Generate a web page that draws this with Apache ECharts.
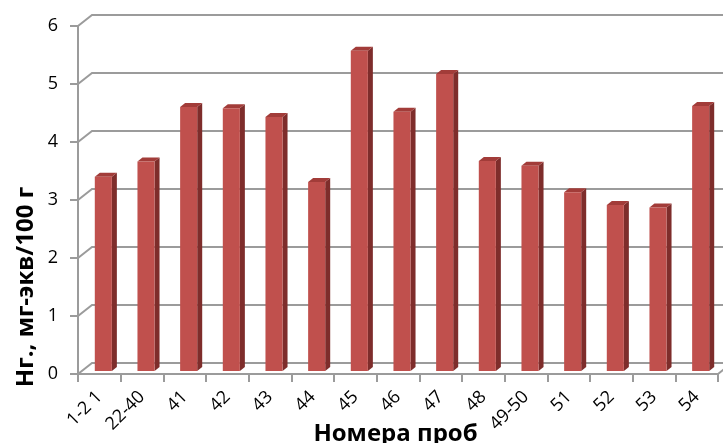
<!DOCTYPE html>
<html>
<head>
<meta charset="utf-8">
<script src="https://cdn.jsdelivr.net/npm/echarts@6/dist/echarts.min.js"></script>
<style>
  html, body { margin: 0; padding: 0; background: #ffffff; }
  #chart { width: 723px; height: 443px; }
</style>
</head>
<body>
<div id="chart"></div>
<script>
// Sample numbers and hardness values (mg-eq/100 g)
const categories = ['1-2 1', '22-40', '41', '42', '43', '44', '45', '46', '47', '48', '49-50', '51', '52', '53', '54'];
const values = [3.35, 3.61, 4.55, 4.53, 4.38, 3.26, 5.52, 4.47, 5.12, 3.62, 3.54, 3.08, 2.86, 2.82, 4.57];
const yTicks = [0, 1, 2, 3, 4, 5, 6];

const yTitle = 'Нг., мг-экв/100 г';
const xTitle = 'Номера проб';

// Depth of the pseudo-3D wall (pixels) and bar depth
const WALL_DX = 14, WALL_DY = -11;
const BAR_OFF_DX = 4, BAR_OFF_DY = -3;
const BAR_DX = 5, BAR_DY = -4;
const GRID_COLOR = '#9b9b9b';

const chart = echarts.init(document.getElementById('chart'), null, { renderer: 'canvas' });

const option = {
  backgroundColor: '#ffffff',
  animation: false,
  grid: { left: 78, right: 5, top: 26, bottom: 69, containLabel: false, outerBoundsMode: 'none' },
  xAxis: {
    type: 'category',
    data: categories,
    boundaryGap: true,
    axisLine: { show: true, lineStyle: { color: GRID_COLOR, width: 2 } },
    axisTick: { show: true, length: 8, lineStyle: { color: GRID_COLOR, width: 2 } },
    axisLabel: {
      rotate: 45,
      margin: 20,
      interval: 0,
      hideOverlap: false,
      color: '#000000',
      fontFamily: 'Open Sans',
      fontSize: 18
    },
    name: xTitle,
    nameLocation: 'middle',
    nameGap: 48,
    nameMoveOverlap: false,
    nameTextStyle: {
      color: '#000000',
      fontFamily: 'Open Sans',
      fontWeight: 'bold',
      fontSize: 24,
      padding: [0, 5, 0, 0]
    }
  },
  yAxis: {
    type: 'value',
    min: 0,
    max: 6,
    interval: 1,
    axisLine: { show: true, lineStyle: { color: GRID_COLOR, width: 2 } },
    axisTick: { show: true, length: 8, lineStyle: { color: GRID_COLOR, width: 2 } },
    splitLine: { show: false },
    axisLabel: {
      margin: 20,
      color: '#000000',
      fontFamily: 'Open Sans',
      fontSize: 18
    }
  },
  graphic: [{
    type: 'text',
    x: 26,
    y: 287,
    rotation: Math.PI / 2,
    style: {
      text: yTitle,
      fill: '#000000',
      font: 'bold 24px "Open Sans"',
      align: 'center',
      verticalAlign: 'middle'
    }
  }],
  series: [
    {
      // back wall gridlines with the diagonal connectors to the front axis
      type: 'custom',
      silent: true,
      clip: false,
      z: 1,
      data: yTicks.map(v => [0, v]),
      renderItem: function (params, api) {
        const cs = params.coordSys;
        const v = api.value(1);
        const y = api.coord([0, v])[1];
        const x0 = cs.x;
        const x1 = cs.x + cs.width;
        const children = [{
          type: 'polyline',
          shape: { points: [[x0, y], [x0 + WALL_DX, y + WALL_DY], [x1 + 40, y + WALL_DY]] },
          style: { stroke: GRID_COLOR, lineWidth: 2, fill: null }
        }];
        if (v === 0) {
          children.push({
            type: 'line',
            shape: { x1: x1, y1: y, x2: x1 + WALL_DX, y2: y + WALL_DY },
            style: { stroke: GRID_COLOR, lineWidth: 2 }
          });
        }
        return { type: 'group', children: children };
      }
    },
    {
      // pseudo-3D columns
      type: 'custom',
      z: 3,
      clip: false,
      data: values.map((v, i) => [i, v]),
      renderItem: function (params, api) {
        const i = api.value(0);
        const v = api.value(1);
        const base = api.coord([i, 0]);
        const top = api.coord([i, v]);
        const bw = api.size([1, 0])[0] * 0.4;
        const cx = base[0] + BAR_OFF_DX;
        const xl = cx - bw / 2, xr = cx + bw / 2;
        const yb = base[1] + BAR_OFF_DY;
        const yt = top[1] + BAR_OFF_DY;
        return {
          type: 'group',
          children: [
            {
              type: 'polygon',
              shape: { points: [[xr, yt], [xr + BAR_DX, yt + BAR_DY], [xr + BAR_DX, yb + BAR_DY], [xr, yb]] },
              style: { fill: '#7e2d2b' }
            },
            {
              type: 'polygon',
              shape: { points: [[xl, yt], [xl + BAR_DX, yt + BAR_DY], [xr + BAR_DX, yt + BAR_DY], [xr, yt]] },
              style: { fill: '#a23c39' }
            },
            {
              type: 'rect',
              shape: { x: xl, y: yt, width: bw, height: yb - yt },
              style: { fill: '#c0504d' }
            }
          ]
        };
      }
    }
  ]
};

chart.setOption(option);
</script>
</body>
</html>
